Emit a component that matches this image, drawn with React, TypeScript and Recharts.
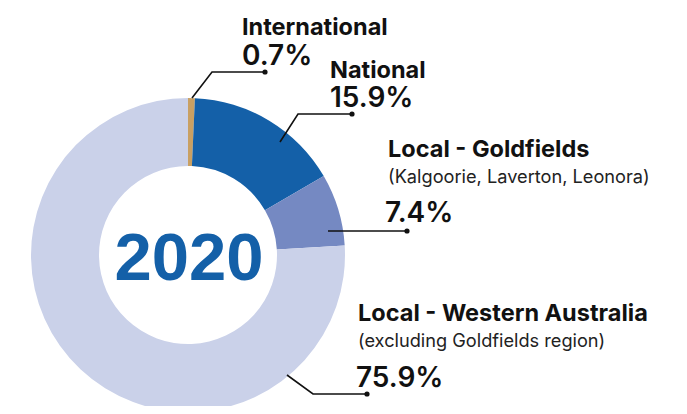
import React from 'react'
import { PieChart, Pie, Cell } from 'recharts'

const categories = ['International', 'National', 'Local - Goldfields', 'Local - Western Australia']
const subtitles = ['', '', '(Kalgoorie, Laverton, Leonora)', '(excluding Goldfields region)']
const shares = [0.7, 15.9, 7.4, 75.9]
const colors = ['#C9A063', '#1460A8', '#7589C2', '#CAD1E9']
const year = '2020'

const data = categories.map((name, i) => ({ name, value: shares[i] }))

// leader lines and label blocks, offsets from the pie centre
const callouts = [
  { start: [4, -157], elbow: [24, -183], end: [77, -183], text: [54, -220], value: [54, -190] },
  { start: [92, -113], elbow: [110, -141], end: [164, -141], text: [142, -177], value: [142, -148] },
  { start: [140, -24], elbow: [180, -24], end: [219, -24], text: [200, -98], value: [197, -33] },
  { start: [99, 120], elbow: [125, 139], end: [179, 139], text: [170, 66], value: [168, 132] },
]

const FONT = 'Inter, "Noto Sans", sans-serif'

function renderCallout(props: any) {
  const { cx, cy, index } = props
  const c = callouts[index]
  const sub = subtitles[index]
  return (
    <g key={`callout-${index}`}>
      {index === 0 && (
        <text
          x={cx + 1}
          y={cy + 25}
          textAnchor="middle"
          fill="#1460A8"
          fontFamily='"Liberation Sans", Arial, sans-serif'
          fontWeight={700}
          fontSize={67}
        >
          {year}
        </text>
      )}
      <polyline
        points={[c.start, c.elbow, c.end].map(([x, y]) => `${cx + x},${cy + y}`).join(' ')}
        fill="none"
        stroke="#111"
        strokeWidth={1.6}
      />
      <circle cx={cx + c.end[0]} cy={cy + c.end[1]} r={2.6} fill="#111" />
      <text x={cx + c.text[0]} y={cy + c.text[1]} fill="#111" fontFamily={FONT} fontWeight={700} fontSize={23.5}>
        {categories[index]}
      </text>
      {sub && (
        <text x={cx + c.text[0]} y={cy + c.text[1] + 26} fill="#222" fontFamily={FONT} fontSize={18.2}>
          {sub}
        </text>
      )}
      <text x={cx + c.value[0]} y={cy + c.value[1]} fill="#111" fontFamily={FONT} fontWeight={600} fontSize={28}>
        {`${shares[index]}%`}
      </text>
    </g>
  )
}

export default function App() {
  return (
    <div style={{ margin: -8, width: 687, height: 414, background: '#fff' }}>
      <PieChart width={687} height={414} margin={{ top: 0, right: 0, bottom: 0, left: 0 }}>
        <Pie
          data={data}
          dataKey="value"
          nameKey="name"
          cx={188}
          cy={255}
          innerRadius={89}
          outerRadius={157}
          startAngle={90}
          endAngle={-270}
          stroke="none"
          label={renderCallout}
          labelLine={false}
          isAnimationActive={false}
        >
          {data.map((d, i) => (
            <Cell key={d.name} fill={colors[i]} />
          ))}
        </Pie>
      </PieChart>
    </div>
  )
}
